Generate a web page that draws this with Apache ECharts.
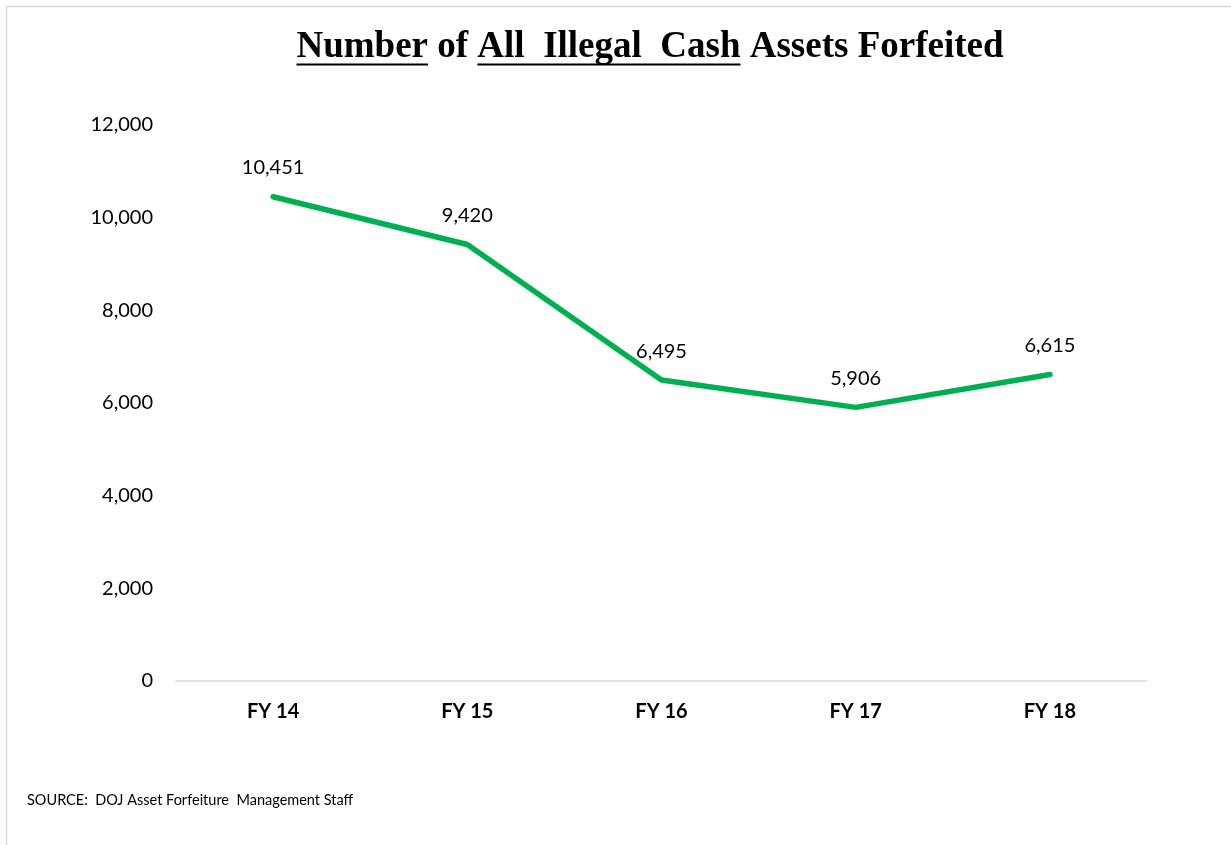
<!DOCTYPE html>
<html>
<head>
<meta charset="utf-8">
<script src="https://cdn.jsdelivr.net/npm/echarts@6/dist/echarts.min.js"></script>
<style>
html,body{margin:0;padding:0;background:#fff;}
#chart{width:1231px;height:845px;}
</style>
</head>
<body>
<div id="chart"></div>
<script>
const categories = ['FY 14', 'FY 15', 'FY 16', 'FY 17', 'FY 18'];
const forfeited = [10451, 9420, 6495, 5906, 6615];
const yTicks = { min: 0, max: 12000, interval: 2000 };
const titleParts = [
  { text: 'Number', underline: true },
  { text: ' of ', underline: false },
  { text: 'All  Illegal  Cash', underline: true },
  { text: ' Assets Forfeited', underline: false }
];
const sourceText = 'SOURCE:  DOJ Asset Forfeiture  Management Staff';

const chart = echarts.init(document.getElementById('chart'));

// title layout measured with canvas
const titleFont = 'bold 37px "Liberation Serif"';
const ctx = document.createElement('canvas').getContext('2d');
ctx.font = titleFont;
const widths = titleParts.map(p => ctx.measureText(p.text).width);
const total = widths.reduce((a, b) => a + b, 0);
const titleCenter = 650, titleTop = 29, underlineY = 64.5;
let cx = titleCenter - total / 2;
const titleGraphics = [];
titleParts.forEach((p, i) => {
  titleGraphics.push({
    type: 'text', x: cx, y: titleTop,
    style: { text: p.text, font: titleFont, fill: '#000', verticalAlign: 'top' }
  });
  if (p.underline) {
    titleGraphics.push({
      type: 'line', shape: { x1: cx, y1: underlineY, x2: cx + widths[i], y2: underlineY },
      style: { stroke: '#000', lineWidth: 2 }
    });
  }
  cx += widths[i];
});

chart.setOption({
  animation: false,
  backgroundColor: '#fff',
  grid: { left: 176, right: 84, top: 125, bottom: 164, containLabel: false },
  xAxis: {
    type: 'category',
    data: categories,
    boundaryGap: true,
    axisLine: { show: true, lineStyle: { color: '#D9D9D9', width: 1.5 } },
    axisTick: { show: false },
    axisLabel: { color: '#000', fontFamily: 'Lato', fontWeight: 'bold', fontSize: 20, margin: 21 }
  },
  yAxis: {
    type: 'value',
    min: yTicks.min, max: yTicks.max, interval: yTicks.interval,
    axisLine: { show: false },
    axisTick: { show: false },
    splitLine: { show: false },
    axisLabel: {
      color: '#000', fontFamily: 'Lato', fontSize: 20, margin: 23,
      formatter: v => v.toLocaleString('en-US')
    }
  },
  series: [{
    type: 'line',
    data: forfeited,
    showSymbol: true,
    symbol: 'circle',
    symbolSize: 2,
    itemStyle: { color: '#00B050' },
    lineStyle: { color: '#00B050', width: 5.5, join: 'round', cap: 'round' },
    label: {
      show: true, position: 'top', distance: 18,
      color: '#000', fontFamily: 'Lato', fontSize: 20, opacity: 1,
      formatter: p => p.value.toLocaleString('en-US')
    }
  }],
  graphic: [
    { type: 'rect', shape: { x: 6.5, y: 6.5, width: 1400, height: 1000 }, style: { fill: null, stroke: '#D9D9D9', lineWidth: 1.5 }, silent: true },
    ...titleGraphics,
    { type: 'text', x: 27, y: 800, style: { text: sourceText, font: '14.5px Lato', fill: '#000', verticalAlign: 'middle' } }
  ]
});
</script>
</body>
</html>
